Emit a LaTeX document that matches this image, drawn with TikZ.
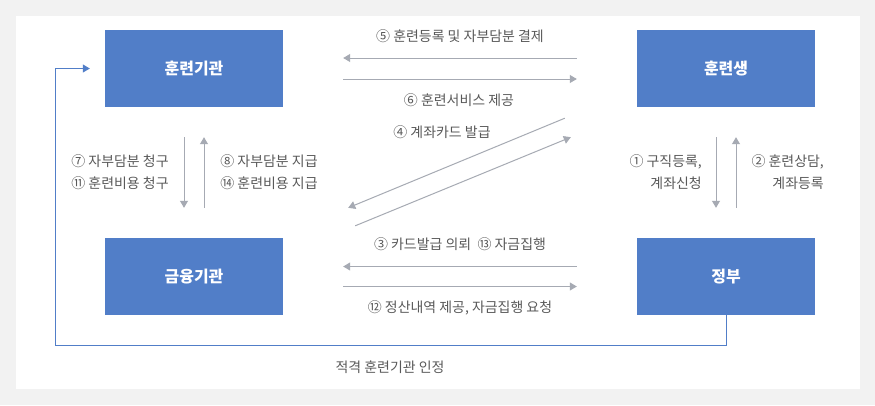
\documentclass[tikz,border=0pt]{standalone}
\usepackage{fontspec}
\setmainfont{Noto Sans CJK KR}
\usetikzlibrary{arrows.meta,calc}
\definecolor{bggray}{HTML}{F2F2F2}
\definecolor{boxblue}{HTML}{517EC8}
\definecolor{agray}{HTML}{A6AAB3}
\definecolor{tgray}{HTML}{595959}
\begin{document}
\begin{tikzpicture}[x=1bp,y=-1bp,
  box/.style={fill=boxblue, minimum width=178bp, minimum height=77bp, inner sep=0pt, text=white, font=\fontsize{16}{18}\selectfont\bfseries},
  garrow/.style={draw=agray, line width=1bp, -{Triangle[length=7bp,width=8bp]}},
  barrow/.style={draw=boxblue, line width=1bp, -{Triangle[length=7bp,width=8bp]}},
  lbl/.style={text=tgray, font=\fontsize{14}{22}\selectfont, inner sep=0pt}]
\fill[bggray] (0,0) rectangle (875,405);
\fill[white] (16,16) rectangle (860,389);
\useasboundingbox (0,0) rectangle (875,405);

\node[box] (hg) at (194,68.5) {훈련기관};
\node[box] (hs) at (726,68.5) {훈련생};
\node[box] (gy) at (194,276.5) {금융기관};
\node[box] (jb) at (726,276.5) {정부};

% top horizontal
\draw[garrow] ($(hs.west)+(-60,-10.5)$) -- ($(hg.east)+(60,-10.5)$);
\draw[garrow] ($(hg.east)+(60,10.5)$) -- ($(hs.west)+(-60,10.5)$);
% bottom horizontal
\draw[garrow] ($(jb.west)+(-60,-10)$) -- ($(gy.east)+(60,-10)$);
\draw[garrow] ($(gy.east)+(60,10)$) -- ($(jb.west)+(-60,10)$);
% left verticals
\draw[garrow] ($(hg.south)+(-10,30)$) -- ($(gy.north)+(-10,-30)$);
\draw[garrow] ($(gy.north)+(10,-30)$) -- ($(hg.south)+(10,30)$);
% right verticals
\draw[garrow] ($(hs.south)+(-10,30)$) -- ($(jb.north)+(-10,-30)$);
\draw[garrow] ($(jb.north)+(10,-30)$) -- ($(hs.south)+(10,30)$);
% diagonals
\draw[garrow] ($(hs.south west)+(-72,11)$) -- ($(gy.north east)+(65,-30)$);
\draw[garrow] ($(gy.north east)+(72,-12)$) -- ($(hs.south west)+(-66,30)$);

% blue approval line
\coordinate (bl) at (55,345);
\draw[barrow] (jb.south) |- (bl) |- ($(hg.west)+(-15,0)$);

% labels
\node[lbl] (l5) at (460,36) {⑤ 훈련등록 및 자부담분 결제};
\node[lbl] (l6) at (459,100) {⑥ 훈련서비스 제공};
\node[lbl] (l4) at (442,132) {④ 계좌카드 발급};
\node[lbl] (l3) at (460,244) {③ 카드발급 의뢰\ \ ⑬ 자금집행};
\node[lbl] (l12) at (460,308) {⑫ 정산내역 제공, 자금집행 요청};
\node[lbl] (lq) at (390,367) {적격 훈련기관 인정};
\node[lbl, align=right] (l7) at (120,172) {⑦ 자부담분 청구\\⑪ 훈련비용 청구};
\node[lbl, align=right] (l8) at (269,172) {⑧ 자부담분 지급\\⑭ 훈련비용 지급};
\node[lbl, align=right, anchor=east] (l1) at (702,172.5) {① 구직등록,\\계좌신청};
\node[lbl, align=right, anchor=east] (l2) at (824,172.5) {② 훈련상담,\\계좌등록};
\end{tikzpicture}
\end{document}
